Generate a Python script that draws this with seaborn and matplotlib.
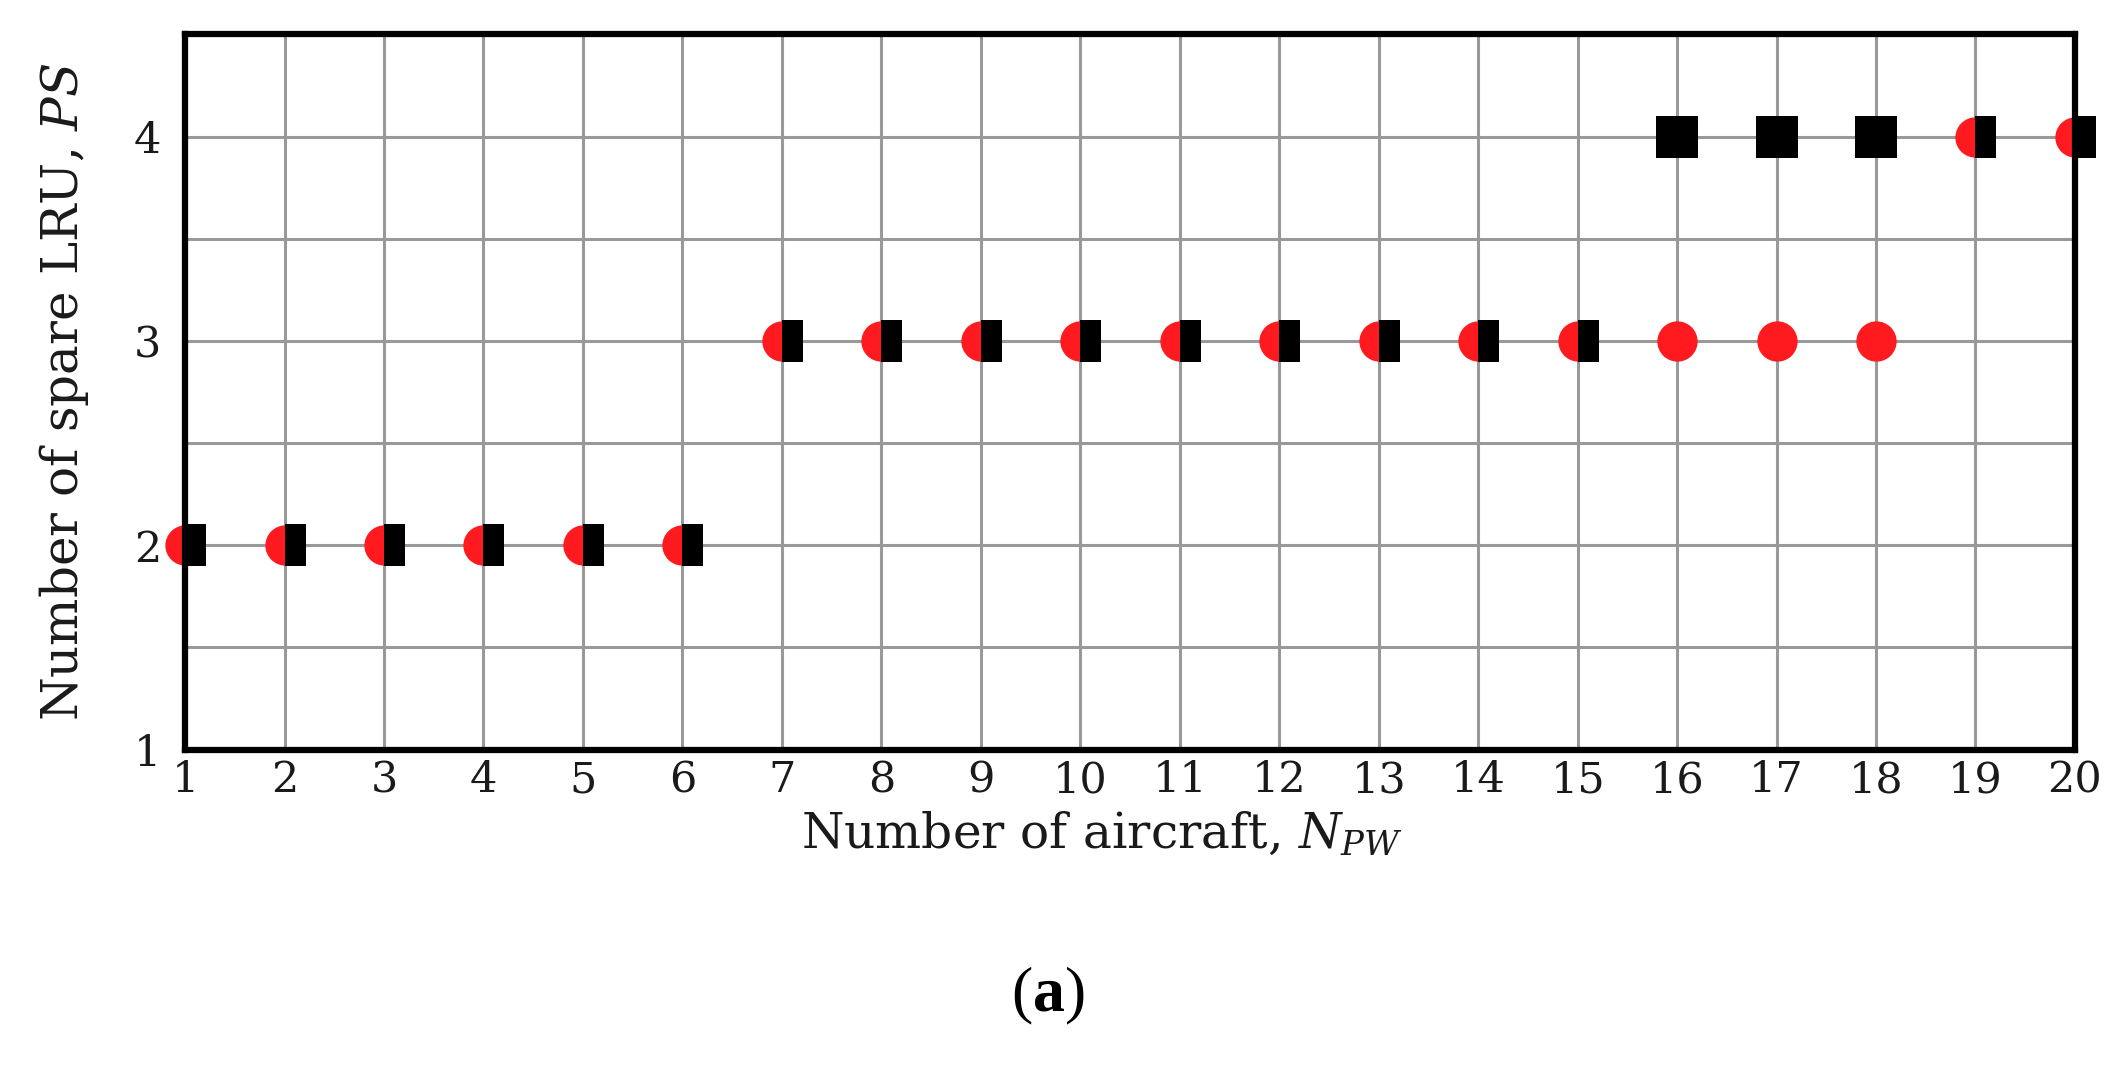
import numpy as np
import pandas as pd
import matplotlib.pyplot as plt
import seaborn as sns

# number of aircraft
aircraft = [1, 2, 3, 4, 5, 6, 7, 8, 9, 10, 11, 12, 13, 14, 15, 16, 17, 18, 19, 20]
# spare LRU, circle series (red) and square series (black)
ps_circle = [2, 2, 2, 2, 2, 2, 3, 3, 3, 3, 3, 3, 3, 3, 3, 3, 3, 3, 4, 4]
ps_square = [2, 2, 2, 2, 2, 2, 3, 3, 3, 3, 3, 3, 3, 3, 3, 4, 4, 4, 4, 4]
y_ticks = [1, 2, 3, 4]

RED = '#ff1a1f'
BLACK = '#000000'
TXT = '#1a1a1a'

sns.set_theme(style='white')
plt.rcParams['font.family'] = ['DejaVu Serif']
plt.rcParams['mathtext.fontset'] = 'custom'
plt.rcParams['mathtext.rm'] = 'DejaVu Serif'
plt.rcParams['mathtext.it'] = 'DejaVu Serif:italic'
plt.rcParams['mathtext.bf'] = 'Liberation Serif:bold'

df = pd.DataFrame({'x': aircraft, 'circle': ps_circle, 'square': ps_square})
both = df[df['circle'] == df['square']]
only = df[df['circle'] != df['square']]

fig = plt.figure(figsize=(21.13, 10.74), dpi=100)
ax = fig.add_axes([0.0876, 0.302, 0.8944, 0.666])

common = dict(linestyle='', markeredgewidth=0, markerfacecoloralt='none',
              clip_on=False, errorbar=None, legend=False, ax=ax, zorder=3)

# points where both series agree: half circle left, half square right
sns.lineplot(data=both, x='x', y='circle', marker='o', markersize=29,
             fillstyle='left', color=RED, **common)
sns.lineplot(data=both, x='x', y='square', marker='s', markersize=30,
             fillstyle='right', color=BLACK, **common)
# points where they differ: full markers
sns.lineplot(data=only, x='x', y='circle', marker='o', markersize=29,
             fillstyle='full', color=RED, **common)
sns.lineplot(data=only, x='x', y='square', marker='s', markersize=30,
             fillstyle='full', color=BLACK, **common)

ax.set_xlim(1, 20)
ax.set_ylim(1, 4.5)
ax.set_xticks(aircraft)
ax.set_yticks(y_ticks)
ax.set_yticks([1.5, 2.5, 3.5, 4.5], minor=True)
ax.grid(True, which='both', color='#999999', linewidth=2.2)
ax.set_axisbelow(True)
ax.tick_params(axis='both', which='both', length=0, labelsize=31, colors=TXT)
ax.tick_params(axis='x', pad=7)
ax.tick_params(axis='y', pad=17)

for s in ax.spines.values():
    s.set_color('black')
    s.set_linewidth(4.5)
    s.set_zorder(4)

ax.set_xlabel('Number of aircraft, $\\mathit{N_{PW}}$', fontsize=35, color=TXT)
ax.xaxis.set_label_coords(0.485, -0.083)
ax.set_ylabel('Number of spare LRU, $\\mathit{PS}$', fontsize=36, color=TXT)
ax.yaxis.set_label_coords(-0.05, 0.5)

fig.text(0.496, 0.073, '($\\mathbf{a}$)', fontsize=46, family='Liberation Serif',
         ha='center', va='center', color='black')

fig.savefig('out.png', dpi=100)
